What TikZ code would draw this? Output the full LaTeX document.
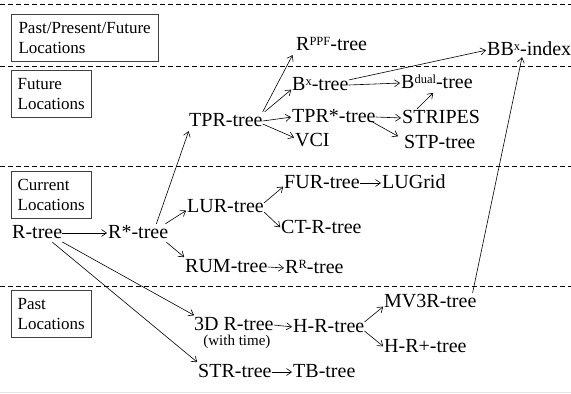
\documentclass[tikz,border=0pt]{standalone}
\usepackage{fontspec}
\setmainfont{Liberation Serif}
\usetikzlibrary{shapes,arrows,arrows.meta,positioning}

\newcommand{\treesup}[1]{\raisebox{5pt}{\fontsize{12.5}{12.5}\selectfont #1}}

\tikzset{
	treename/.style={anchor=west, inner sep=0pt, text height=14pt, text depth=4pt, font=\fontsize{20}{24}\selectfont},
	timenote/.style={inner sep=0pt, font=\fontsize{15}{18}\selectfont},
	region/.style={draw=black!75, line width=0.9pt, anchor=north west, align=left, inner xsep=6pt, inner ysep=0pt, minimum height=47pt, font=\fontsize{17}{20}\selectfont},
	sepline/.style={line width=1pt, dash pattern=on 5pt off 3pt},
	evolves/.style={line width=0.6pt, -{Straight Barb[length=5pt,width=7pt]}, shorten >=1pt}
}

\begin{document}
\begin{tikzpicture}[x=1pt,y=-1pt]
		\useasboundingbox (0,0) rectangle (571,394);
		\draw[sepline] (0,4) -- (571,4);
		\draw[sepline] (0,66.5) -- (571,66.5);
		\draw[sepline] (0,166) -- (571,166);
		\draw[sepline] (0,286) -- (571,286);
		\draw[black!10, line width=1pt] (0,392) -- (571,392);

		\node[region, minimum width=147pt] (ppfbox) at (10.7,14) {Past/Present/Future\\Locations};
		\node[region, minimum width=80pt] (futbox) at (10.7,70) {Future\\Locations};
		\node[region, minimum width=80pt] (curbox) at (10.7,171) {Current\\Locations};
		\node[region, minimum width=80pt] (pastbox) at (10.7,290) {Past\\Locations};

		\node[treename] (rtree) at (12,233) {R-tree};
		\node[treename] (rstar) at (108,233) {R*-tree};
		\node[treename] (lur) at (187,207) {LUR-tree};
		\node[treename] (rum) at (185,267) {RUM-tree};
		\node[treename] (tpr) at (189,121) {TPR-tree};
		\node[treename] (rppf) at (296,45) {R\treesup{PPF}-tree};
		\node[treename] (bx) at (292,85) {B\treesup{x}-tree};
		\node[treename] (tprstar) at (292,117) {TPR*-tree};
		\node[treename] (vci) at (295,141) {VCI};
		\node[treename] (bdual) at (401,83) {B\treesup{dual}-tree};
		\node[treename] (stripes) at (402,118) {STRIPES};
		\node[treename] (stp) at (404,143) {STP-tree};
		\node[treename] (bbx) at (487,50) {BB\treesup{x}-index};
		\node[treename] (fur) at (284,183) {FUR-tree};
		\node[treename] (lugrid) at (382,183) {LUGrid};
		\node[treename] (ctr) at (281,228) {CT-R-tree};
		\node[treename] (rr) at (285,268) {R\treesup{R}-tree};
		\node[treename] (r3d) at (194,325) {3D R-tree};
		\node[timenote, below=1pt of r3d, xshift=3pt] (wtime) {(with time)};
		\node[treename] (str) at (198,372) {STR-tree};
		\node[treename] (hr) at (293,327) {H-R-tree};
		\node[treename] (mv3r) at (384,302) {MV3R-tree};
		\node[treename] (hrplus) at (384,347) {H-R+-tree};
		\node[treename] (tb) at (293,372) {TB-tree};

		\draw[evolves] (rtree.east) -- (rstar.west);
		\draw[evolves] ([yshift=-9pt]rtree.east) -- ([xshift=1pt]r3d.north west);
		\draw[evolves] ([xshift=-10pt]rtree.south east) -- (str.north west);
		\draw[evolves] ([xshift=-12pt]rstar.north east) -- (tpr.south west);
		\draw[evolves] ([xshift=-3pt]rstar.north east) -- ([yshift=-3pt]lur.west);
		\draw[evolves] ([xshift=-2pt]rstar.south east) -- (rum.north west);
		\draw[evolves] ([yshift=4pt]lur.east) -- ([yshift=-3pt]fur.west);
		\draw[evolves] ([yshift=-5pt]lur.east) -- (ctr.west);
		\draw[evolves] (rum.east) -- (rr.west);
		\draw[evolves] (fur.east) -- (lugrid.west);
		\draw[evolves] (tpr.north east) -- ([xshift=-3pt]rppf.south west);
		\draw[evolves] ([xshift=2pt]tpr.north east) -- ([yshift=-4pt]bx.west);
		\draw[evolves] (tpr.east) -- (tprstar.west);
		\draw[evolves] ([yshift=-3pt]tpr.east) -- ([yshift=3pt]vci.west);
		\draw[evolves] (bx.east) -- (bdual.west);
		\draw[evolves] ([yshift=5pt]bx.east) -- (bbx.west);
		\draw[evolves] (tprstar.east) -- (stripes.west);
		\draw[evolves] ([xshift=-5pt,yshift=-4pt]tprstar.east) -- ([xshift=-5pt,yshift=-3pt]stp.north west);
		\draw[evolves] ([xshift=-24pt]stripes.north) -- ([xshift=-3pt]bdual.south);
		\draw[evolves] (r3d.east) -- (hr.west);
		\draw[evolves] (str.east) -- (tb.west);
		\draw[evolves] ([yshift=5pt]hr.east) -- ([yshift=-4pt]mv3r.west);
		\draw[evolves] ([yshift=-4pt]hr.east) -- (hrplus.west);
		\draw[evolves] ([xshift=-4pt]mv3r.north east) -- ([xshift=-7pt,yshift=3pt]bbx.south);
\end{tikzpicture}
\end{document}
